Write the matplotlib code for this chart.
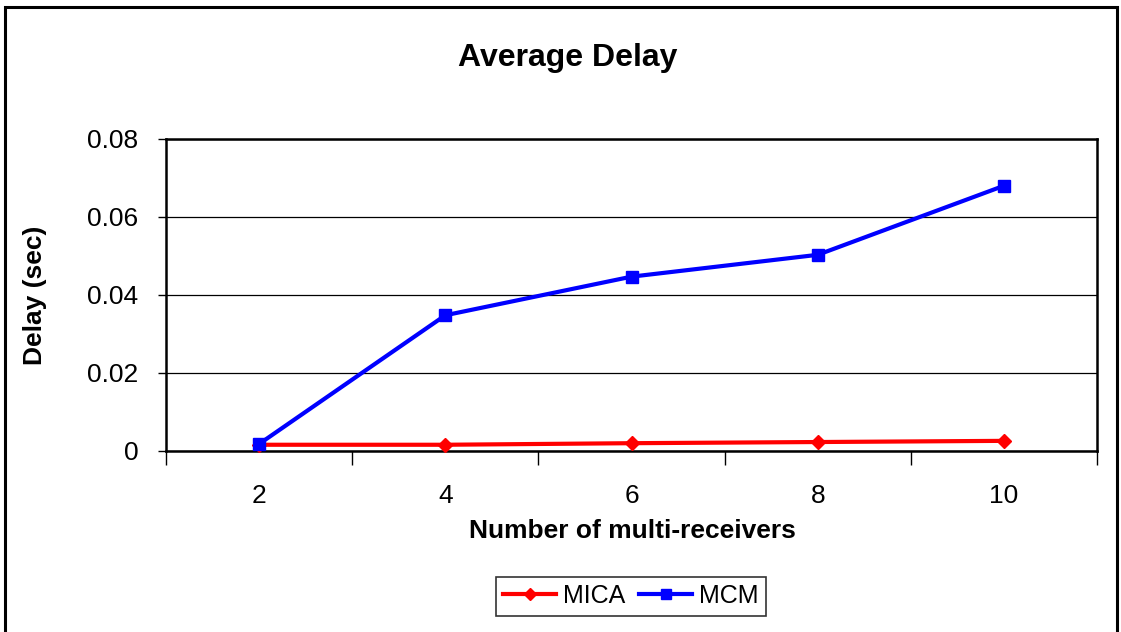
import matplotlib.pyplot as plt
from matplotlib.patches import Rectangle

plt.rcParams['font.family'] = ['Liberation Sans', 'DejaVu Sans']

receivers = ["2", "4", "6", "8", "10"]
mica = [0.0016, 0.0016, 0.0020, 0.0023, 0.0026]
mcm = [0.0018, 0.0348, 0.0447, 0.0503, 0.0680]

fig = plt.figure(figsize=(11.21, 6.32), dpi=100)
ax = fig.add_axes([0.1481, 0.2864, 0.8305, 0.4937])

# outer chart frame
fig.patches.append(Rectangle((5 / 1121, -0.05), 1112 / 1121, 1.05 - 7 / 632,
                             transform=fig.transFigure, fill=False,
                             edgecolor="black", linewidth=2.2))

x = list(range(len(receivers)))
ax.plot(x, mica, color="#ff0000", linewidth=3, marker="D", markersize=7,
        label="MICA", clip_on=False, zorder=3)
ax.plot(x, mcm, color="#0000ff", linewidth=3, marker="s", markersize=8,
        label="MCM", clip_on=False, zorder=4)

ax.set_xlim(-0.5, len(receivers) - 0.5)
ax.set_ylim(0, 0.08)
ax.set_yticks([0, 0.02, 0.04, 0.06, 0.08])
ax.set_yticklabels(["0", "0.02", "0.04", "0.06", "0.08"], fontsize=19)
ax.yaxis.grid(True, color="black", linewidth=0.9)
ax.set_axisbelow(True)

# ticks at category boundaries, labels at centres
ax.set_xticks([i - 0.5 for i in range(len(receivers) + 1)])
ax.set_xticklabels([])
ax.set_xticks(x, minor=True)
ax.set_xticklabels(receivers, minor=True, fontsize=19)
ax.tick_params(axis="x", which="major", length=10, width=1, direction="out")
ax.tick_params(axis="x", which="minor", length=0, pad=24)
ax.tick_params(axis="y", length=6, width=1, pad=14)

for s in ax.spines.values():
    s.set_linewidth(1.8)

fig.text(568 / 1121, 1 - 58 / 632, "Average Delay", fontsize=23,
         fontweight="bold", ha="center", va="center")
fig.text(35 / 1121, 1 - 295 / 632, "Delay (sec)", fontsize=19,
         fontweight="bold", ha="center", va="center", rotation=90)
fig.text(632 / 1121, 1 - 531 / 632, "Number of multi-receivers", fontsize=19,
         fontweight="bold", ha="center", va="center")

handles, labels = ax.get_legend_handles_labels()
leg = fig.legend(handles, labels, loc="center",
                 bbox_to_anchor=(631 / 1121, 1 - 596 / 632), ncol=2,
                 fontsize=18, frameon=True, fancybox=False, edgecolor="black",
                 handlelength=2.1, columnspacing=0.55, handletextpad=0.3,
                 borderpad=0.3, borderaxespad=0, markerscale=0.9)
leg.get_frame().set_linewidth(1.2)

fig.savefig("out.png", dpi=100)
